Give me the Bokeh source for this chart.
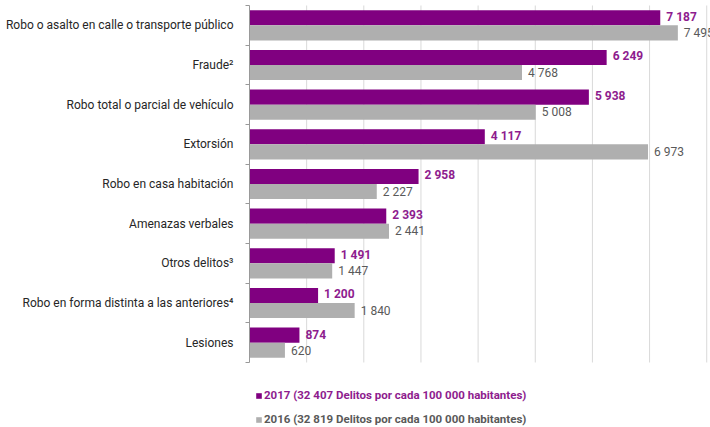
from bokeh.plotting import figure
from bokeh.models import ColumnDataSource, FixedTicker, Range1d, Legend, LegendItem
from bokeh.core.properties import value
from bokeh.embed import file_html
from bokeh.resources import INLINE

categories = [
    "Robo o asalto en calle o transporte público",
    "Fraude²",
    "Robo total o parcial de vehículo",
    "Extorsión",
    "Robo en casa habitación",
    "Amenazas verbales",
    "Otros delitos³",
    "Robo en forma distinta a las anteriores⁴",
    "Lesiones",
]
v2017 = [7187, 6249, 5938, 4117, 2958, 2393, 1491, 1200, 874]
v2016 = [7495, 4768, 5008, 6973, 2227, 2441, 1447, 1840, 620]
legend_2017 = "2017 (32 407 Delitos por cada 100 000 habitantes)"
legend_2016 = "2016 (32 819 Delitos por cada 100 000 habitantes)"
x_ticks = [1000, 2000, 3000, 4000, 5000, 6000, 7000, 8000]

PURPLE = "#800080"
PURPLE_TXT = "#8E1C8E"
GREY = "#AFAFAF"
GREY_TXT = "#595959"
FONT = "Roboto"

n = len(categories)
centers = [n - 0.5 - i for i in range(n)]
bounds = [float(b) for b in range(n + 1)]
off = 0.19
hgt = 0.38

def fmt(v):
    return f"{v:,}".replace(",", " ")

src17 = ColumnDataSource(dict(y=[c + off for c in centers], v=v2017, lbl=[fmt(v) for v in v2017]))
src16 = ColumnDataSource(dict(y=[c - off for c in centers], v=v2016, lbl=[fmt(v) for v in v2016]))

p = figure(width=710, height=427, output_backend="svg", toolbar_location=None,
           x_range=Range1d(0, 8066), y_range=Range1d(-1.639, 9.126),
           min_border_left=249, min_border_right=0, min_border_top=0, min_border_bottom=0)
p.outline_line_color = None
p.background_fill_color = "white"

# vertical grid lines, only across the bar area
p.segment(x0=x_ticks, y0=0, x1=x_ticks, y1=n, line_color="#D9D9D9", line_width=1)

r17 = p.hbar(y="y", right="v", left=0, height=hgt, source=src17, fill_color=PURPLE, line_color=None)
r16 = p.hbar(y="y", right="v", left=0, height=hgt, source=src16, fill_color=GREY, line_color=None)

p.text(x="v", y="y", text="lbl", source=src17, x_offset=6, y_offset=-1,
       text_font=value(FONT), text_font_size="12px", text_font_style="bold",
       text_color=PURPLE_TXT, text_align="left", text_baseline="middle")
p.text(x="v", y="y", text="lbl", source=src16, x_offset=6, y_offset=0,
       text_font=value(FONT), text_font_size="12px",
       text_color=GREY_TXT, text_align="left", text_baseline="middle")

p.xaxis.visible = False
p.xgrid.grid_line_color = None
p.ygrid.grid_line_color = None

# y axis
p.yaxis.bounds = (0, n)
p.yaxis.ticker = FixedTicker(ticks=centers, minor_ticks=bounds)
p.yaxis.major_label_overrides = {c: name for c, name in zip(centers, categories)}
p.yaxis.major_tick_out = 0
p.yaxis.major_tick_in = 0
p.yaxis.minor_tick_out = 4
p.yaxis.minor_tick_in = 0
p.yaxis.minor_tick_line_color = "#999999"
p.yaxis.axis_line_color = "#999999"
p.yaxis.major_label_standoff = 12
p.yaxis.major_label_text_font = FONT
p.yaxis.major_label_text_font_size = "12px"
p.yaxis.major_label_text_color = "#262626"

def make_legend(label, rend, color, y):
    lg = Legend(items=[LegendItem(label=label, renderers=[rend])], location=(6, y),
                orientation="vertical", padding=0, margin=0, spacing=0,
                glyph_width=7, glyph_height=7, label_height=14, label_standoff=2,
                label_text_font=FONT, label_text_font_size="11.5px", label_text_font_style="bold",
                label_text_color=color, border_line_color=None, background_fill_alpha=0)
    p.add_layout(lg, "center")

make_legend(legend_2017, r17, PURPLE_TXT, 25)
make_legend(legend_2016, r16, GREY_TXT, 1)

open("out.html", "w").write(file_html(p, INLINE))
